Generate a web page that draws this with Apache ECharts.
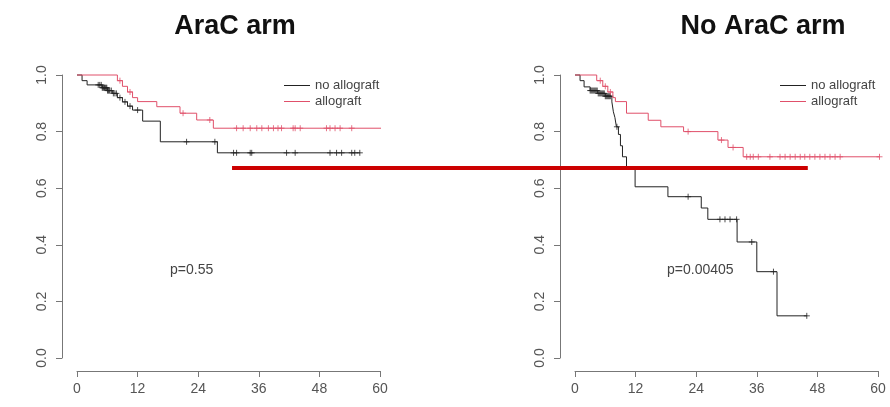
<!DOCTYPE html>
<html><head><meta charset="utf-8">
<script src="https://cdn.jsdelivr.net/npm/echarts@6/dist/echarts.min.js"></script>
<style>html,body{margin:0;padding:0;background:#fff}#c{width:890px;height:407px}</style>
</head><body><div id="c"></div><script>
const panelTitles = ['AraC arm', 'No AraC arm'];
const groupNames = ['no allograft', 'allograft'];
const pValues = ['p=0.55', 'p=0.00405'];
const monthTicks = [0, 12, 24, 36, 48, 60];
const survTicks = [0.0, 0.2, 0.4, 0.6, 0.8, 1.0];

// AraC arm, no allograft: step times (months) and survival after each step
const araNoTime = [0, 1, 2, 5, 6, 7, 8, 9, 10, 11, 13, 16.5, 27.8, 56];
const araNoSurv = [1, 0.98, 0.965, 0.955, 0.945, 0.935, 0.92, 0.905, 0.89, 0.876, 0.837, 0.764, 0.725, 0.725];
const araNoCens = [4.2, 4.5, 4.8, 5, 5.15, 5.3, 5.45, 5.6, 5.75, 5.9, 6.05, 6.2, 6.35, 6.5, 6.8, 7.2, 7.5, 7.8, 8.5, 9.5, 10.5, 12, 21.7, 27.3, 31, 31.6, 34.3, 34.6, 41.5, 43.2, 50.1, 51.4, 52.4, 54.4, 55, 56];

// AraC arm, allograft
const araAlloTime = [0, 8, 9, 10, 11, 12, 15.8, 20.4, 23.7, 27, 61];
const araAlloSurv = [1, 0.98, 0.96, 0.94, 0.92, 0.906, 0.888, 0.865, 0.841, 0.812, 0.812];
const araAlloCens = [8.5, 10.5, 21, 26.3, 31.6, 32.9, 34.3, 35.6, 36.6, 37.9, 38.9, 39.8, 40.5, 42.8, 43.2, 44.2, 49.4, 50.1, 51.1, 52.1, 54.4];

// No AraC arm, no allograft
const noAraNoTime = [0, 1, 1.8, 3, 4.5, 6, 7.3, 7.6, 7.9, 8.2, 8.6, 9, 9.4, 10.2, 11.9, 18.4, 25, 26.3, 32.1, 36, 40, 45.9];
const noAraNoSurv = [1, 0.98, 0.958, 0.945, 0.935, 0.925, 0.905, 0.87, 0.85, 0.817, 0.79, 0.75, 0.711, 0.676, 0.605, 0.57, 0.53, 0.49, 0.41, 0.305, 0.149, 0.149];
const noAraNoCens = [3, 3.2, 3.4, 3.6, 3.8, 4, 4.2, 4.4, 4.6, 4.8, 5, 5.2, 5.4, 5.6, 5.8, 6, 6.2, 6.4, 6.6, 6.8, 7, 8.3, 22.4, 28.7, 29.7, 30.7, 32, 35, 39.3, 45.9];

// No AraC arm, allograft
const noAraAlloTime = [0, 4.3, 5.5, 6.5, 7.5, 8, 10.2, 14.5, 17, 21.5, 28.3, 30.3, 33.3, 60.4];
const noAraAlloSurv = [1, 0.98, 0.96, 0.94, 0.92, 0.906, 0.865, 0.84, 0.817, 0.8, 0.77, 0.744, 0.711, 0.711];
const noAraAlloCens = [5, 6, 7, 22.4, 29, 31.3, 34, 34.7, 35.3, 36.3, 38.6, 40.6, 41.6, 42.6, 43.6, 44.6, 45.5, 46.5, 47.5, 48.5, 49.5, 50.5, 51.5, 52.5, 60.3];

// red reference line annotation (survival level, start month in left panel, end month in right panel)
const refLevel = 0.671;
const refStartMonth = 30.7;
const refEndMonth = 46.1;

const BLACK = '#222';
const RED = '#e0506a';
const FONT = 'Liberation Sans, Arial, sans-serif';

function pairs(t, s) { return t.map((v, i) => [v, s[i]]); }
function censPts(c, t, s) {
  return c.map(x => {
    let v = s[0];
    for (let i = 0; i < t.length; i++) if (t[i] <= x) v = s[i];
    return [x, v];
  });
}

const chart = echarts.init(document.getElementById('c'), null, { renderer: 'canvas' });

function xAx(gi) {
  return {
    gridIndex: gi, type: 'value', min: 0, max: 60, interval: 12, offset: 13,
    axisLine: { show: true, onZero: false, lineStyle: { color: '#777', width: 1 } },
    axisTick: { show: true, length: 6, lineStyle: { color: '#777' } },
    axisLabel: { fontSize: 14, color: '#555', margin: 11, fontFamily: FONT },
    splitLine: { show: false }
  };
}
function yAx(gi) {
  return {
    gridIndex: gi, type: 'value', min: 0, max: 1, interval: 0.2, offset: 15,
    axisLine: { show: true, onZero: false, lineStyle: { color: '#777', width: 1 } },
    axisTick: { show: true, length: 6, lineStyle: { color: '#777' } },
    axisLabel: { fontSize: 14, color: '#555', rotate: 90, margin: 13, fontFamily: FONT,
      formatter: v => v.toFixed(1) },
    splitLine: { show: false }
  };
}
const plus = 'path://M5,0L5,10M0,5L10,5';
function lineS(name, gi, t, s, color) {
  return { name, type: 'line', xAxisIndex: gi, yAxisIndex: gi, data: pairs(t, s), step: 'end',
    showSymbol: false, symbol: 'none', clip: false, lineStyle: { color, width: 1 }, itemStyle: { color },
    animation: false, silent: true };
}
function censS(name, gi, c, t, s, color) {
  return { name, type: 'scatter', xAxisIndex: gi, yAxisIndex: gi, data: censPts(c, t, s),
    symbol: plus, symbolSize: 6, clip: false,
    itemStyle: { color: 'transparent', borderColor: color, borderWidth: 1 }, animation: false, silent: true };
}

const option = {
  backgroundColor: '#fff',
  animation: false,
  title: [
    { text: panelTitles[0], left: 230, top: 8, textAlign: 'center',
      textStyle: { fontSize: 27, fontWeight: 'bold', color: '#111', fontFamily: FONT } },
    { text: panelTitles[1], left: 758, top: 8, textAlign: 'center',
      textStyle: { fontSize: 27, fontWeight: 'bold', color: '#111', fontFamily: FONT } },
    { text: pValues[0], left: 165, top: 258, textStyle: { fontSize: 14, fontWeight: 'normal', color: '#444', fontFamily: FONT } },
    { text: pValues[1], left: 662, top: 258, textStyle: { fontSize: 14, fontWeight: 'normal', color: '#444', fontFamily: FONT } }
  ],
  legend: [
    { data: groupNames, orient: 'vertical', left: 279, top: 74, itemWidth: 26, itemHeight: 1, itemGap: 3,
      icon: 'rect', textStyle: { fontSize: 13, color: '#444', fontFamily: FONT }, selectedMode: false },
    { data: groupNames, orient: 'vertical', left: 775, top: 74, itemWidth: 26, itemHeight: 1, itemGap: 3,
      icon: 'rect', textStyle: { fontSize: 13, color: '#444', fontFamily: FONT }, selectedMode: false }
  ],
  grid: [
    { left: 77, top: 75, width: 303, height: 283 },
    { left: 575, top: 75, width: 303, height: 283 }
  ],
  xAxis: [xAx(0), xAx(1)],
  yAxis: [yAx(0), yAx(1)],
  series: [
    lineS(groupNames[0], 0, araNoTime, araNoSurv, BLACK),
    lineS(groupNames[1], 0, araAlloTime, araAlloSurv, RED),
    censS('c1', 0, araNoCens, araNoTime, araNoSurv, BLACK),
    censS('c2', 0, araAlloCens, araAlloTime, araAlloSurv, RED),
    lineS(groupNames[0], 1, noAraNoTime, noAraNoSurv, BLACK),
    lineS(groupNames[1], 1, noAraAlloTime, noAraAlloSurv, RED),
    censS('c3', 1, noAraNoCens, noAraNoTime, noAraNoSurv, BLACK),
    censS('c4', 1, noAraAlloCens, noAraAlloTime, noAraAlloSurv, RED)
  ]
};
chart.setOption(option);

const p1 = chart.convertToPixel({ gridIndex: 0 }, [refStartMonth, refLevel]);
const p2 = chart.convertToPixel({ gridIndex: 1 }, [refEndMonth, refLevel]);
chart.setOption({
  graphic: [{ type: 'line', shape: { x1: p1[0], y1: p1[1], x2: p2[0], y2: p2[1] },
    style: { stroke: '#cc0000', lineWidth: 4 }, z: 100 }]
});
</script></body></html>
